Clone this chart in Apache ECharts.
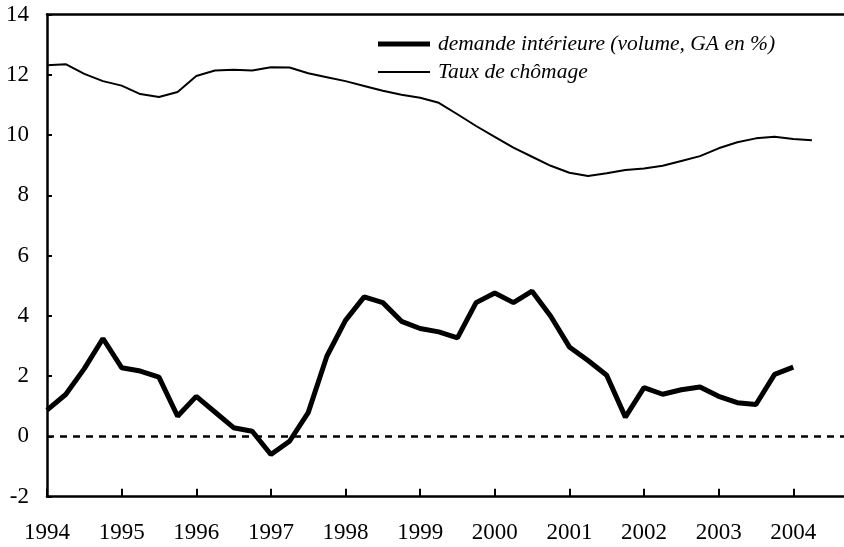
<!DOCTYPE html>
<html>
<head>
<meta charset="utf-8">
<script src="https://cdn.jsdelivr.net/npm/echarts@6/dist/echarts.min.js"></script>
<style>html,body{margin:0;padding:0;background:#fff}#c{width:844px;height:547px}</style>
</head>
<body>
<div id="c"></div>
<script>
// Quarterly periods (decimal years: start of quarter)
var quartersDemande = [1994.00,1994.25,1994.50,1994.75,1995.00,1995.25,1995.50,1995.75,1996.00,1996.25,1996.50,1996.75,1997.00,1997.25,1997.50,1997.75,1998.00,1998.25,1998.50,1998.75,1999.00,1999.25,1999.50,1999.75,2000.00,2000.25,2000.50,2000.75,2001.00,2001.25,2001.50,2001.75,2002.00,2002.25,2002.50,2002.75,2003.00,2003.25,2003.50,2003.75,2004.00];
var demande = [0.87,1.39,2.25,3.25,2.28,2.17,1.97,0.67,1.33,0.81,0.29,0.17,-0.60,-0.16,0.79,2.66,3.85,4.63,4.44,3.82,3.58,3.47,3.27,4.44,4.76,4.44,4.82,3.99,2.97,2.52,2.03,0.64,1.62,1.40,1.55,1.64,1.33,1.12,1.06,2.06,2.30];
var quartersChomage = quartersDemande.concat([2004.25]);
var chomage = [12.32,12.35,12.03,11.79,11.64,11.36,11.26,11.43,11.96,12.14,12.17,12.14,12.25,12.24,12.05,11.92,11.79,11.63,11.47,11.34,11.24,11.07,10.69,10.30,9.94,9.58,9.28,8.98,8.75,8.64,8.73,8.84,8.89,8.98,9.14,9.30,9.56,9.76,9.89,9.94,9.87,9.83];
var yTicks = [-2,0,2,4,6,8,10,12,14];
var nameDemande = 'demande intérieure (volume, GA en %)';
var nameChomage = 'Taux de chômage';

function pairs(xs, ys){ return xs.map(function(x,i){ return [x, ys[i]]; }); }

var chart = echarts.init(document.getElementById('c'), null, {renderer:'canvas'});
var font = '"Liberation Serif", "Times New Roman", serif';
var legendText = {fontFamily: font, fontStyle: 'italic', fontSize: 21.5, color: '#000', lineHeight: 24, padding: [0,0,0,3]};
chart.setOption({
  animation: false,
  backgroundColor: '#fff',
  textStyle: {fontFamily: font},
  grid: {left: 47, right: 0, top: 14.5, bottom: 50.3, containLabel: false},
  legend: [
    {left: 378, top: 32, padding: 0, itemWidth: 52, itemHeight: 5, icon: 'rect',
     data: [{name: nameDemande}], textStyle: legendText},
    {left: 378, top: 60, padding: 0, itemWidth: 52, itemHeight: 2, icon: 'rect',
     data: [{name: nameChomage}], textStyle: legendText}
  ],
  xAxis: [
    {type: 'value', min: 1994, max: 2004.68, interval: 1, position: 'bottom',
     splitLine: {show: false},
     axisLine: {show: true, onZero: false, lineStyle: {color: '#000', width: 2.5}},
     axisTick: {show: true, inside: true, length: 8, lineStyle: {color: '#000', width: 2}},
     axisLabel: {margin: 25, fontSize: 23, color: '#000', fontFamily: font,
       showMaxLabel: false,
       formatter: function(v){ return Math.abs(v - Math.round(v)) < 1e-6 ? String(Math.round(v)) : ''; }}},
    {type: 'value', min: 1994, max: 2004.68, position: 'top',
     splitLine: {show: false},
     axisLine: {show: true, onZero: false, lineStyle: {color: '#000', width: 2.5}},
     axisTick: {show: false}, axisLabel: {show: false}}
  ],
  yAxis: {type: 'value', min: yTicks[0], max: yTicks[yTicks.length-1], interval: 2,
    splitLine: {show: false},
    axisLine: {show: true, onZero: false, lineStyle: {color: '#000', width: 2.5}},
    axisTick: {show: true, inside: true, length: 5, lineStyle: {color: '#000', width: 2}},
    axisLabel: {margin: 18, fontSize: 23, color: '#000', fontFamily: font}},
  series: [
    {name: nameDemande, type: 'line', data: pairs(quartersDemande, demande),
     showSymbol: false, symbol: 'none', lineStyle: {color: '#000', width: 5}, itemStyle: {color: '#000'},
     markLine: {silent: true, symbol: ['none','none'], label: {show: false},
       lineStyle: {color: '#000', type: [7,6], width: 2.5},
       data: [{yAxis: 0}]}},
    {name: nameChomage, type: 'line', data: pairs(quartersChomage, chomage),
     showSymbol: false, symbol: 'none', lineStyle: {color: '#000', width: 2}, itemStyle: {color: '#000'}}
  ]
});
</script>
</body>
</html>
